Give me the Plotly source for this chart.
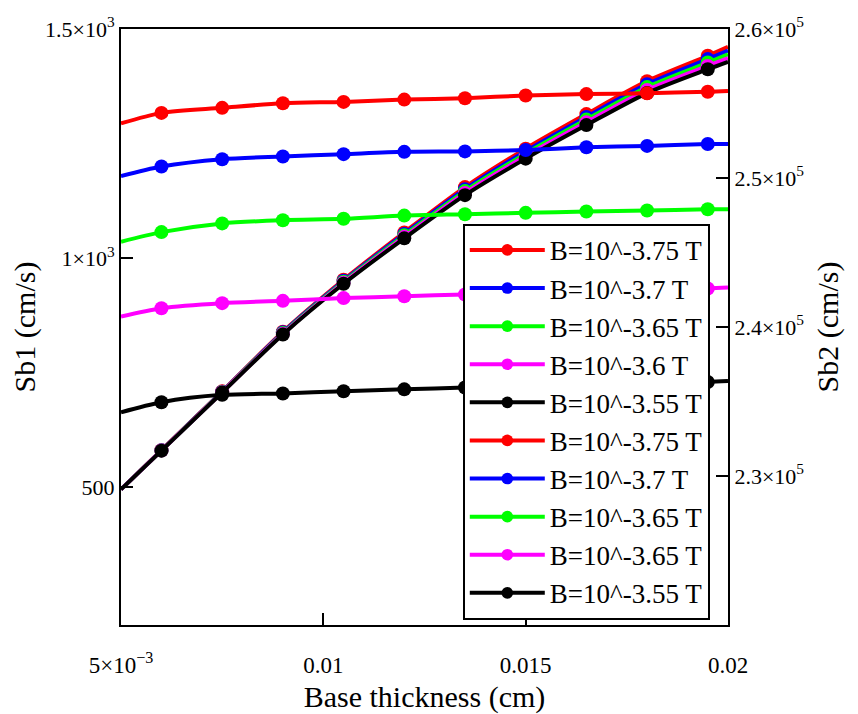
import plotly.graph_objects as go

# Base thickness (cm)
x_vals = [0.005, 0.006, 0.0075, 0.009, 0.0105, 0.012, 0.0135, 0.015, 0.0165, 0.018, 0.0195, 0.02]

# Sb1 (cm/s), left axis
sb1_red = [1294, 1317, 1328, 1338, 1341, 1346, 1349, 1355, 1358, 1360, 1363, 1365]
sb1_blue = [1179, 1200, 1216, 1222, 1227, 1232, 1233, 1236, 1242, 1245, 1249, 1249]
sb1_green = [1036, 1057, 1076, 1083, 1086, 1093, 1096, 1099, 1102, 1104, 1107, 1107]
sb1_magenta = [873, 891, 902, 907, 913, 917, 921, 925, 928, 931, 934, 936]
sb1_black = [664, 686, 702, 705, 710, 714, 718, 721, 724, 727, 730, 732]

# Sb2 (cm/s), right axis
sb2_red = [229100, 231730, 235680, 239680, 243170, 246350, 249390, 251970, 254290, 256500, 258200, 258800]
sb2_blue = [229100, 231720, 235660, 239640, 243100, 246250, 249250, 251800, 254100, 256300, 257980, 258550]
sb2_green = [229100, 231715, 235640, 239590, 243035, 246150, 249120, 251635, 253920, 256100, 257750, 258300]
sb2_magenta = [229100, 231710, 235620, 239545, 242970, 246050, 248985, 251470, 253735, 255900, 257525, 258050]
sb2_black = [229100, 231700, 235600, 239500, 242900, 245950, 248850, 251300, 253550, 255700, 257300, 257800]

names_1 = ["B=10^-3.75 T", "B=10^-3.7 T", "B=10^-3.65 T", "B=10^-3.6 T", "B=10^-3.55 T"]
names_2 = ["B=10^-3.75 T", "B=10^-3.7 T", "B=10^-3.65 T", "B=10^-3.65 T", "B=10^-3.55 T"]
colors = ["#ff0000", "#0000ff", "#00ff00", "#ff00ff", "#000000"]

x_tickvals = [0.005, 0.01, 0.015, 0.02]
x_ticktext = ["5×10<sup>−3</sup>", "0.01", "0.015", "0.02"]
y1_tickvals = [500, 1000, 1500]
y1_ticktext = ["500", "1×10<sup>3</sup>", "1.5×10<sup>3</sup>"]
y2_tickvals = [230000, 240000, 250000, 260000]
y2_ticktext = ["2.3×10<sup>5</sup>", "2.4×10<sup>5</sup>", "2.5×10<sup>5</sup>", "2.6×10<sup>5</sup>"]

n = len(x_vals)
msize = [0] + [14] * (n - 2) + [0]

fig = go.Figure()
FONT = '"Times New Roman", "Liberation Serif", "DejaVu Serif", serif'

for ys, nm, c in zip([sb1_red, sb1_blue, sb1_green, sb1_magenta, sb1_black], names_1, colors):
    fig.add_trace(go.Scatter(
        x=x_vals, y=ys, name=nm, yaxis="y2", mode="lines+markers",
        line=dict(color=c, width=4, shape="spline", smoothing=0.8),
        marker=dict(color=c, size=msize, opacity=1, line=dict(width=0)),
    ))

for ys, nm, c in zip([sb2_red, sb2_blue, sb2_green, sb2_magenta, sb2_black], names_2, colors):
    fig.add_trace(go.Scatter(
        x=x_vals, y=ys, name=nm, yaxis="y", mode="lines+markers",
        line=dict(color=c, width=4, shape="spline", smoothing=0.8),
        marker=dict(color=c, size=msize, opacity=1, line=dict(width=0)),
    ))

fig.update_layout(
    width=858, height=714,
    margin=dict(l=121, r=130, t=29, b=89),
    paper_bgcolor="white", plot_bgcolor="white",
    font=dict(family=FONT, color="black", size=22),
    showlegend=True,
    legend=dict(
        x=0.97, xanchor="right", y=0.673, yanchor="top",
        bgcolor="white", bordercolor="black", borderwidth=2,
        font=dict(family=FONT, size=27, color="black"),
        tracegroupgap=0, itemwidth=75,
    ),
    xaxis=dict(
        range=[0.005, 0.02], tickvals=x_tickvals, ticktext=x_ticktext,
        ticks="inside", ticklen=12, tickwidth=2, tickcolor="black",
        showline=True, linecolor="black", linewidth=2, mirror=True,
        showgrid=False, zeroline=False, ticklabelstandoff=18, automargin=False,
        tickfont=dict(size=23),
        title=dict(text="Base thickness (cm)", font=dict(family=FONT, size=30), standoff=29),
    ),
    yaxis=dict(
        range=[220000, 260000], side="right", tickvals=y2_tickvals, ticktext=y2_ticktext,
        ticks="inside", ticklen=12, tickwidth=2, tickcolor="black",
        showline=True, linecolor="black", linewidth=2, automargin=False,
        showgrid=False, zeroline=False,
        title=dict(text="Sb2 (cm/s)", font=dict(family=FONT, size=30), standoff=14),
    ),
    yaxis2=dict(
        range=[200, 1500], side="left", overlaying="y", tickvals=y1_tickvals, ticktext=y1_ticktext,
        ticks="inside", ticklen=12, tickwidth=2, tickcolor="black",
        showline=True, linecolor="black", linewidth=2, automargin=False,
        showgrid=False, zeroline=False,
        title=dict(text="Sb1 (cm/s)", font=dict(family=FONT, size=30), standoff=0),
    ),
)

fig.write_html("out.html")
